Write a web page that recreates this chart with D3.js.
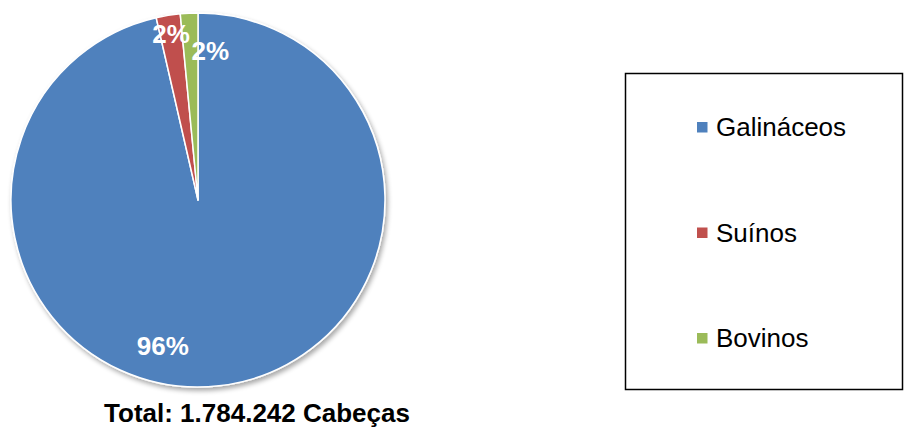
<!DOCTYPE html>
<html><head><meta charset="utf-8">
<script src="https://cdn.jsdelivr.net/npm/d3@7"></script>
<style>html,body{margin:0;padding:0;background:#fff;}svg{display:block;}</style>
</head><body>
<script>
const categories = ["Galináceos", "Suínos", "Bovinos"];
const values = [1720242, 37000, 27000];
const colors = ["#4F81BD", "#C0504D", "#9BBB59"];
const totalLabel = "Total: 1.784.242 Cabeças";

const W = 905, H = 429;
const svg = d3.select("body").append("svg").attr("width", W).attr("height", H);
const defs = svg.append("defs");
const f = defs.append("filter").attr("id","sh").attr("x","-10%").attr("y","-10%").attr("width","120%").attr("height","120%");
f.append("feGaussianBlur").attr("in","SourceAlpha").attr("stdDeviation",2.5);
f.append("feOffset").attr("dx",1.5).attr("dy",2.5).attr("result","b");
f.append("feComponentTransfer").append("feFuncA").attr("type","linear").attr("slope",0.35);
const m = f.append("feMerge"); m.append("feMergeNode"); m.append("feMergeNode").attr("in","SourceGraphic");

const cx = 198, cy = 200, R = 187;
const total = d3.sum(values);
const pie = d3.pie().sort(null).value(d => d)(values);
const arc = d3.arc().innerRadius(0).outerRadius(R);
const g = svg.append("g").attr("transform", `translate(${cx},${cy})`);
g.append("g").attr("filter","url(#sh)").selectAll("path").data(pie).join("path")
  .attr("d", arc).attr("fill", (d,i) => colors[i])
  .attr("stroke", "#fff").attr("stroke-width", 1.5).attr("stroke-linejoin","round");

// label placement (best-fit style): angle shift (rad) and radius fraction
const labelLayout = [{da: 0.35, rf: 0.8}, {da: 0, rf: 0.9}, {da: 0.13, rf: 0.8}];
g.selectAll("text").data(pie).join("text")
  .attr("transform", (d,i) => {
    const a = (d.startAngle + d.endAngle)/2 + labelLayout[i].da;
    const r = R * labelLayout[i].rf;
    return `translate(${r*Math.sin(a)},${-r*Math.cos(a)})`;
  })
  .attr("text-anchor","middle").attr("dy","0.36em")
  .attr("fill","#fff").attr("font-family","Liberation Sans, Arial, sans-serif")
  .attr("font-weight","bold").attr("font-size", 26)
  .text(d => Math.round(d.value/total*100) + "%");

svg.append("text").attr("x", 257).attr("y", 422).attr("text-anchor","middle")
  .attr("font-family","Liberation Sans, Arial, sans-serif").attr("font-weight","bold")
  .attr("font-size", 26).attr("fill","#000").text(totalLabel);

// legend
svg.append("rect").attr("x", 625.5).attr("y", 73.5).attr("width", 277).attr("height", 316)
  .attr("fill","#fff").attr("stroke","#000").attr("stroke-width",1.5);
const ly = d3.scalePoint().domain(categories).range([127, 338]);
const lg = svg.append("g").selectAll("g").data(categories).join("g")
  .attr("transform", d => `translate(697,${ly(d)})`);
lg.append("rect").attr("x",0).attr("y",-5).attr("width",10.5).attr("height",10.5)
  .attr("fill", (d,i) => colors[i]);
lg.append("text").attr("x", 19).attr("y", 9).attr("font-family","Liberation Sans, Arial, sans-serif")
  .attr("font-size", 26).attr("fill","#000").text(d => d);
</script>
</body></html>
